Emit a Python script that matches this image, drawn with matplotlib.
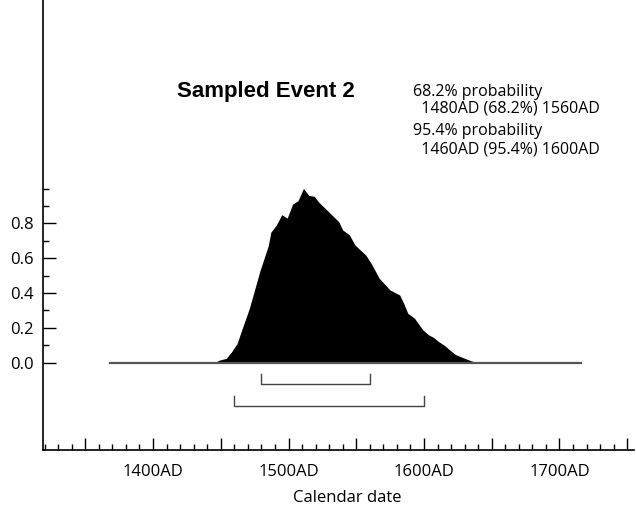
import numpy as np
import matplotlib
matplotlib.use("Agg")
import matplotlib.pyplot as plt
from matplotlib.ticker import MultipleLocator, FixedLocator

# posterior distribution of the sampled event
years = [1368, 1445, 1449, 1454, 1458, 1462, 1466, 1471, 1475, 1479, 1482,
         1485, 1487, 1491, 1495, 1499, 1503, 1507, 1511, 1515, 1519, 1522,
         1527, 1532, 1537, 1540, 1545, 1549, 1553, 1557, 1561, 1567, 1575,
         1582, 1585, 1588, 1593, 1599, 1603, 1607, 1611, 1615, 1619, 1623,
         1626, 1630, 1635, 1641, 1716]
prob = [0.0, 0.0, 0.015, 0.025, 0.063, 0.11, 0.20, 0.31, 0.42, 0.53, 0.60,
        0.67, 0.75, 0.79, 0.85, 0.83, 0.91, 0.93, 1.0, 0.96, 0.955, 0.924,
        0.886, 0.848, 0.81, 0.762, 0.733, 0.676, 0.647, 0.618, 0.57, 0.484, 0.417,
        0.389, 0.341, 0.284, 0.255, 0.19, 0.162, 0.145, 0.12, 0.10, 0.073, 0.048,
        0.038, 0.025, 0.01, 0.0, 0.0]

range68 = (1480, 1560)
range95 = (1460, 1600)

title = "Sampled Event 2"
summary = ["68.2% probability",
           "  1480AD (68.2%) 1560AD",
           "95.4% probability",
           "  1460AD (95.4%) 1600AD"]

xtick_vals = [1400, 1500, 1600, 1700]
ytick_vals = [0.0, 0.2, 0.4, 0.6, 0.8]

W, H = 636, 511
fig = plt.figure(figsize=(W / 100, H / 100), dpi=100)
ax = fig.add_axes([43.3 / W, 1 - 450 / H, (634 - 43.3) / W, 450 / H])

ax.fill_between(years, prob, 0, color="black", linewidth=0)
ax.plot([years[0], years[-1]], [0, 0], color="#555555", lw=1.6)

# range brackets
for (lo, hi), y in [(range68, -0.124), (range95, -0.249)]:
    ax.plot([lo, lo, hi, hi], [y + 0.057, y, y, y + 0.057], color="#444444", lw=1)

ax.set_xlim(1319, 1755)
ax.set_ylim(-0.501, 2.082)

for s in ["top", "right"]:
    ax.spines[s].set_visible(False)
ax.spines["left"].set_linewidth(1.2)
ax.spines["bottom"].set_linewidth(1.2)

ax.xaxis.set_major_locator(MultipleLocator(50))
ax.xaxis.set_minor_locator(MultipleLocator(10))
ax.set_xticklabels([f"{int(v)}AD" if int(v) in xtick_vals else ""
                    for v in ax.get_xticks()])
ax.yaxis.set_major_locator(FixedLocator(ytick_vals))
ax.yaxis.set_minor_locator(FixedLocator(np.arange(0.1, 1.05, 0.1)))
ax.set_yticklabels([f"{v:.1f}" for v in ytick_vals])

ax.tick_params(axis="both", which="major", direction="in", length=9, width=1,
               labelsize=12, pad=7)
ax.tick_params(axis="both", which="minor", direction="in", length=4.5, width=1)
ax.tick_params(axis="x", which="major", pad=10)
for lab in ax.get_xticklabels() + ax.get_yticklabels():
    lab.set_family("Open Sans")

ax.set_xlabel("Calendar date", family="Open Sans", fontsize=12)
ax.xaxis.set_label_coords((347 - 43.3) / (634 - 43.3), -40 / 450)

fig.text(176.7 / W, 1 - 97.3 / H, title, family="Liberation Sans",
         fontweight="bold", fontsize=16, va="baseline", ha="left")
for txt, py in zip(summary, [91.7, 108.3, 131, 149.3]):
    fig.text(413 / W, 1 - py / H, txt, family="Open Sans", fontsize=11.5,
             va="center", ha="left")

fig.savefig("out.png", dpi=100)
